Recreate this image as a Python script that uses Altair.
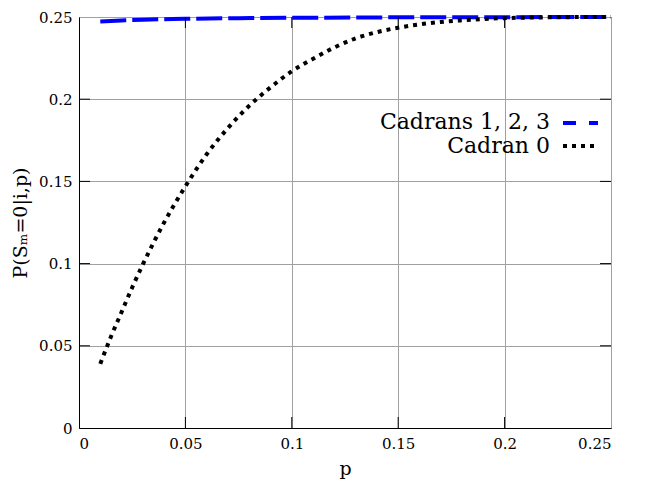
import altair as alt
import pandas as pd

# ---- data ----
p_c0 = [0.01, 0.015, 0.02, 0.025, 0.03, 0.04, 0.05, 0.06, 0.07, 0.08, 0.09,
        0.10, 0.11, 0.12, 0.13, 0.14, 0.15, 0.16, 0.17, 0.18, 0.19, 0.20,
        0.21, 0.22, 0.23, 0.24, 0.25]
cadran0 = [0.039, 0.0555, 0.0705, 0.0855, 0.0995, 0.125, 0.147, 0.1665, 0.1825,
           0.1960, 0.2072, 0.2170, 0.2246, 0.2315, 0.2370, 0.2408, 0.2435,
           0.2455, 0.2470, 0.2480, 0.2488, 0.2493, 0.2496, 0.2498, 0.2499,
           0.2500, 0.2500]
p_c123 = [0.01, 0.02, 0.03, 0.05, 0.075, 0.10, 0.15, 0.20, 0.25]
cadrans123 = [0.2473, 0.2479, 0.2484, 0.2489, 0.2493, 0.2495, 0.2498, 0.2499, 0.2500]
tick_vals = [0, 0.05, 0.1, 0.15, 0.2, 0.25]
inner_ticks = [0.05, 0.1, 0.15, 0.2]
legend_labels = ["Cadrans 1, 2, 3", "Cadran 0"]

W, H = 532, 411
TOP = 9
FONT = "DejaVu Serif"
TL = 11  # inward tick length

df0 = pd.DataFrame({"p": p_c0, "v": cadran0})
df1 = pd.DataFrame({"p": p_c123, "v": cadrans123})
dftx = pd.DataFrame({"p": inner_ticks})
dfty = pd.DataFrame({"v": inner_ticks})

xs = alt.Scale(domain=[0, 0.25], nice=False, zero=False)
ys = alt.Scale(domain=[0, 0.25], nice=False, zero=False)

xaxis = alt.Axis(values=tick_vals, format="~g", title="p", grid=True,
                 ticks=False, labelPadding=8, titlePadding=8, titleFontSize=19)
yaxis = alt.Axis(values=tick_vals, format="~g", title="P(Sₘ=0|i,p)", grid=True,
                 ticks=False, labelPadding=7, titlePadding=8, titleFontSize=19)

X = alt.X("p:Q", scale=xs, axis=xaxis)
Y = alt.Y("v:Q", scale=ys, axis=yaxis)

blue = alt.Chart(df1).mark_line(color="#0000ff", strokeWidth=4, interpolate="monotone",
                                strokeDash=[26, 6], clip=False).encode(x=X, y=Y)
black = alt.Chart(df0).mark_line(color="black", strokeWidth=4, interpolate="monotone",
                                 strokeDash=[4, 5], clip=False).encode(x=X, y=Y)

tick_b = alt.Chart(dftx).mark_rule(color="black", strokeWidth=1).encode(
    x=X, y=alt.value(H), y2=alt.value(H - TL))
tick_t = alt.Chart(dftx).mark_rule(color="black", strokeWidth=1).encode(
    x=X, y=alt.value(0), y2=alt.value(TL))
tick_l = alt.Chart(dfty).mark_rule(color="black", strokeWidth=1).encode(
    y=Y, x=alt.value(0), x2=alt.value(TL))
tick_r = alt.Chart(dfty).mark_rule(color="black", strokeWidth=1).encode(
    y=Y, x=alt.value(W), x2=alt.value(W - TL))

one = pd.DataFrame({"k": [0]})
leg_t1 = alt.Chart(one).mark_text(align="right", baseline="alphabetic", font=FONT,
                                  fontSize=22, color="black").encode(
    x=alt.value(471), y=alt.value(112), text=alt.value(legend_labels[0]))
leg_t2 = alt.Chart(one).mark_text(align="right", baseline="alphabetic", font=FONT,
                                  fontSize=22, color="black").encode(
    x=alt.value(471), y=alt.value(136), text=alt.value(legend_labels[1]))
leg_s1 = alt.Chart(one).mark_rule(color="#0000ff", strokeWidth=4,
                                  strokeDash=[13, 13]).encode(
    x=alt.value(484), x2=alt.value(519), y=alt.value(106))
leg_s2 = alt.Chart(one).mark_rule(color="black", strokeWidth=4,
                                  strokeDash=[4, 5]).encode(
    x=alt.value(484), x2=alt.value(517), y=alt.value(129))

chart = alt.layer(blue, black, tick_b, tick_t, tick_l, tick_r,
                  leg_t1, leg_t2, leg_s1, leg_s2).properties(
    width=W, height=H,
    autosize=alt.AutoSizeParams(type="none"),
    padding={"left": 71, "top": TOP, "right": 26, "bottom": 52},
).configure_view(stroke="black", strokeWidth=1).configure_axis(
    labelFont=FONT, titleFont=FONT, labelFontSize=15,
    labelColor="black", titleColor="black", titleFontWeight="normal",
    domainColor="black", domainWidth=1, gridColor="#a0a0a0", gridWidth=1,
)

chart.save("out.html", embed_options={"renderer": "svg", "actions": False})
